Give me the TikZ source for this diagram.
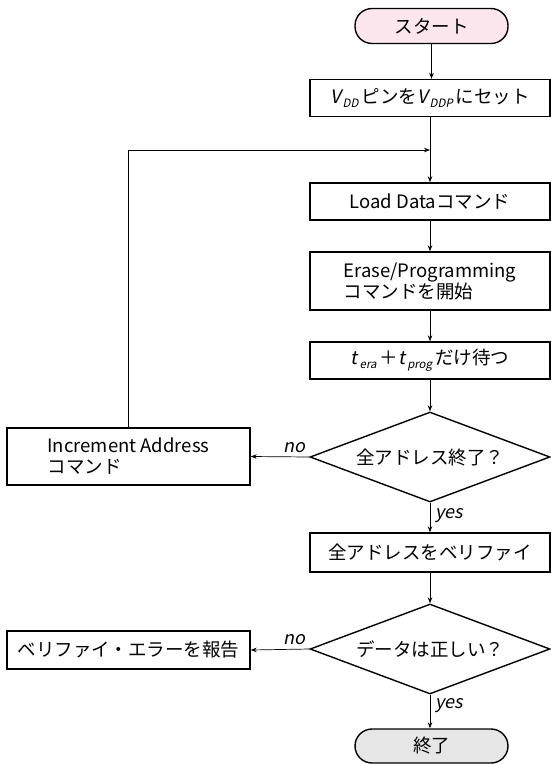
\documentclass[tikz,border=0pt]{standalone}
\usepackage{fontspec}
\setmainfont{Noto Sans CJK JP}
\newfontfamily\itf{Noto Sans CJK JP}[FakeSlant=0.2]
\usetikzlibrary{shapes.geometric,arrows.meta}
\definecolor{startpink}{HTML}{FCE6EE}
\definecolor{endgray}{HTML}{E6E6E6}
\newcommand\mysub[1]{\kern2pt\raisebox{-0.4ex}{\fontsize{11.5}{11.5}\selectfont\itf #1}}
\begin{document}
\begin{tikzpicture}[x=1pt,y=1pt,
  every node/.style={font=\fontsize{18.5}{21}\selectfont},
  box/.style={draw, line width=1.4pt, minimum width=240pt, minimum height=37pt, inner sep=0pt},
  sidebox/.style={draw, line width=1.4pt, minimum width=243pt, inner sep=0pt},
  term/.style={draw, line width=1.4pt, rounded corners=17pt, minimum width=153pt, minimum height=35pt},
  dec/.style={draw, diamond, line width=1.4pt, minimum width=240pt, minimum height=90pt, inner sep=0pt, aspect=2.67},
  conn/.style={line width=0.7pt, -{Stealth[length=6pt,width=4.5pt]}},
  lbl/.style={font=\fontsize{18}{20}\selectfont\itf, inner sep=0pt}]
\useasboundingbox (0,0) rectangle (551,-764);
\node[term, fill=startpink] (start) at (431.5,-26) {スタート};
\node[box] (vdd) at (430,-98) {{\itf V}\mysub{DD}\,ピンを{\itf V}\mysub{DDP}\,にセット};
\node[box] (load) at (430,-201.5) {Load Dataコマンド};
\node[box, minimum height=58pt, align=left] (erase) at (430,-281) {Erase/Programming\\コマンドを開始};
\node[box] (wait) at (430,-360.5) {{\itf t}\mysub{era}\,＋{\itf t}\mysub{prog}\,だけ待つ};
\node[dec] (d1) at (430,-457) {全アドレス終了？};
\node[sidebox, minimum height=57pt, align=left] (inc) at (128.5,-456.5) {Increment Address\\コマンド};
\node[box, minimum height=39pt] (verify) at (430,-552.5) {全アドレスをベリファイ};
\node[dec] (d2) at (430,-649) {データは正しい？};
\node[sidebox, minimum height=38pt] (err) at (128.5,-650) {ベリファイ・エラーを報告};
\node[term, fill=endgray, minimum height=34pt] (end) at (431.5,-746) {終了};
\coordinate (join) at (430,-150);
\draw[conn] (start) -- (start |- vdd.north);
\draw[conn] (vdd) -- (load);
\draw[conn] (inc.north) |- (join);
\draw[conn] (load) -- (erase);
\draw[conn] (erase) -- (wait);
\draw[conn] (wait) -- (d1);
\draw[conn] (d1) -- (verify);
\draw[conn] (verify) -- (d2);
\draw[conn] (d2.south) -- (d2.south |- end.north);
\draw[conn] (d1.west) -- (inc.east);
\draw[conn] (d2.west) -- (err.east);
\node[lbl, anchor=base east] (no1) at (306,-452) {no};
\node[lbl, anchor=base east] (no2) at (306,-644) {no};
\node[lbl, anchor=base west] (yes1) at (435,-518) {yes};
\node[lbl, anchor=base west] (yes2) at (435,-708) {yes};
\end{tikzpicture}
\end{document}
